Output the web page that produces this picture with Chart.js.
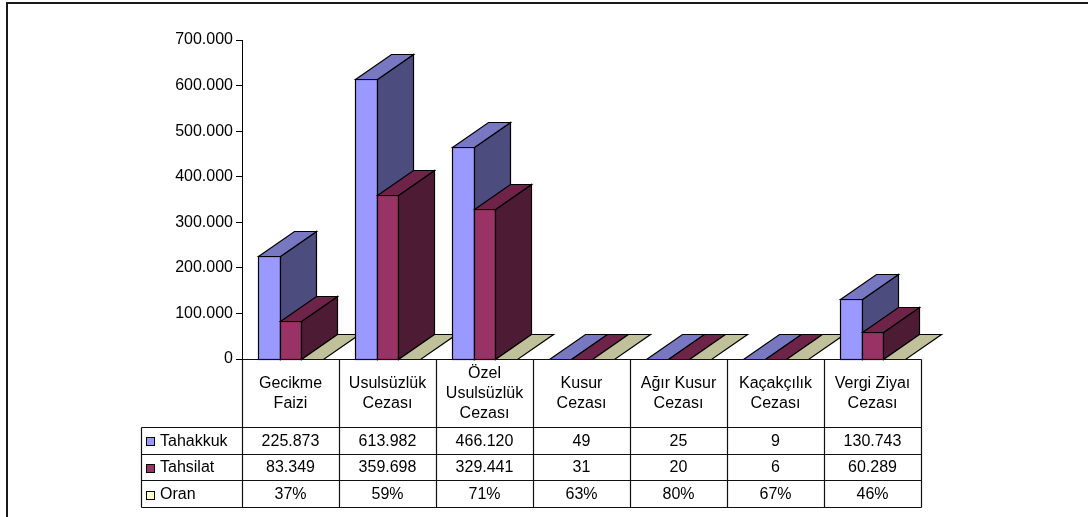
<!DOCTYPE html>
<html>
<head>
<meta charset="utf-8">
<script src="https://cdn.jsdelivr.net/npm/chart.js@4/dist/chart.umd.min.js"></script>
<style>
html,body{margin:0;padding:0;background:#fff;}
#wrap{position:relative;width:1088px;height:517px;}
</style>
</head>
<body>
<div id="wrap"><canvas id="c" width="1088" height="517"></canvas></div>
<script>
// ---- data ----
const categories = [
  ["Gecikme","Faizi"],
  ["Usulsüzlük","Cezası"],
  ["Özel","Usulsüzlük","Cezası"],
  ["Kusur","Cezası"],
  ["Ağır Kusur","Cezası"],
  ["Kaçakçılık","Cezası"],
  ["Vergi Ziyaı","Cezası"]
];
const seriesNames = ["Tahakkuk","Tahsilat","Oran"];
const tahakkuk = [225873, 613982, 466120, 49, 25, 9, 130743];
const tahsilat = [83349, 359698, 329441, 31, 20, 6, 60289];
const oranPct = [37, 59, 71, 63, 80, 67, 46];
const yTicks = [0, 100000, 200000, 300000, 400000, 500000, 600000, 700000];

// ---- styles ----
const FONT = "'Liberation Sans', Arial, sans-serif";
const FS = 16;
const faceColors = [
  {front:'#9999FF', top:'#7777C2', side:'#4C4C7E'},
  {front:'#993366', top:'#6E2448', side:'#4D1B33'},
  {front:'#FFFFCC', top:'#C0C09A', side:'#8F8F72'}
];
const DEPTH_X = 36, DEPTH_Y = -25;

function fmt(n){ return String(n).replace(/\B(?=(\d{3})+(?!\d))/g, '.'); }

const tableRows = [
  tahakkuk.map(fmt),
  tahsilat.map(fmt),
  oranPct.map(v => v + '%')
];

const frame = {
  id:'frame',
  beforeDraw(chart){
    const ctx = chart.ctx;
    ctx.save();
    ctx.fillStyle = '#fff';
    ctx.fillRect(0,0,chart.width,chart.height);
    ctx.fillStyle = '#1a1a1a';
    ctx.fillRect(6, 2, chart.width-6, 2);
    ctx.fillRect(6, 2, 2, chart.height-2);
    ctx.restore();
  }
};

const threeD = {
  id:'threeD',
  afterDatasetsDraw(chart){
    const ctx = chart.ctx;
    const n = chart.data.labels.length;
    const metas = chart.data.datasets.map((d,i)=>chart.getDatasetMeta(i));
    ctx.save();
    ctx.lineWidth = 1.2;
    ctx.strokeStyle = '#000';
    ctx.lineJoin = 'miter';
    for (let c=0;c<n;c++){
      metas.forEach((m,si)=>{
        const el = m.data[c];
        const p = el.getProps(['x','y','base','width'], true);
        const l = Math.round(p.x - p.width/2)+0.5, r = Math.round(p.x + p.width/2)+0.5;
        const t = Math.round(p.y)+0.5, b = Math.round(p.base)+0.5;
        const col = faceColors[si];
        if (b - t >= 1){
          ctx.fillStyle = col.front;
          ctx.fillRect(l, t, r-l, b-t);
          ctx.strokeRect(l, t, r-l, b-t);
          ctx.beginPath();
          ctx.moveTo(r, t); ctx.lineTo(r+DEPTH_X, t+DEPTH_Y);
          ctx.lineTo(r+DEPTH_X, b+DEPTH_Y); ctx.lineTo(r, b); ctx.closePath();
          ctx.fillStyle = col.side; ctx.fill(); ctx.stroke();
        }
        ctx.beginPath();
        ctx.moveTo(l, t); ctx.lineTo(l+DEPTH_X, t+DEPTH_Y);
        ctx.lineTo(r+DEPTH_X, t+DEPTH_Y); ctx.lineTo(r, t); ctx.closePath();
        ctx.fillStyle = col.top; ctx.fill(); ctx.stroke();
      });
    }
    ctx.restore();
  }
};

const dataTable = {
  id:'dataTable',
  afterDraw(chart){
    const ctx = chart.ctx;
    const xs = chart.scales.x;
    const area = chart.chartArea;
    const n = chart.data.labels.length;
    const centers = [];
    for (let i=0;i<n;i++) centers.push(xs.getPixelForValue(i));
    const half = (centers[1]-centers[0])/2;
    const bounds = centers.map(c => c - half); bounds.push(centers[n-1] + half);
    const top = Math.round(area.bottom);
    const headerH = 68, rowH = 26.7;
    const labelLeft = 141;
    const rowY = [top + headerH];
    for (let r=0;r<3;r++) rowY.push(rowY[0] + rowH*(r+1));
    ctx.save();
    ctx.strokeStyle = '#111';
    ctx.lineWidth = 1.2;
    const px = v => Math.round(v)+0.5;
    ctx.beginPath();
    ctx.moveTo(px(bounds[0]), px(top)); ctx.lineTo(px(bounds[n]), px(top));
    rowY.forEach(y => { ctx.moveTo(labelLeft+0.5, px(y)); ctx.lineTo(px(bounds[n]), px(y)); });
    bounds.forEach(x => { ctx.moveTo(px(x), px(top)); ctx.lineTo(px(x), px(rowY[3])); });
    ctx.moveTo(labelLeft+0.5, px(rowY[0])); ctx.lineTo(labelLeft+0.5, px(rowY[3]));
    ctx.stroke();
    ctx.fillStyle = '#000';
    ctx.font = FS + 'px ' + FONT;
    ctx.textAlign = 'center';
    ctx.textBaseline = 'middle';
    const lh = 20;
    chart.data.labels.forEach((lab,i) => {
      const lines = Array.isArray(lab) ? lab : [lab];
      const cy = top + headerH/2;
      lines.forEach((s,k) => {
        ctx.fillText(s, centers[i], cy + (k - (lines.length-1)/2)*lh + 1);
      });
    });
    tableRows.forEach((row,r) => {
      const cy = (rowY[r] + rowY[r+1])/2 + 1;
      row.forEach((s,i) => ctx.fillText(s, centers[i], cy));
    });
    ctx.textAlign = 'left';
    ctx.lineWidth = 1;
    ctx.strokeStyle = '#000';
    seriesNames.forEach((name,r) => {
      const cy = (rowY[r] + rowY[r+1])/2;
      ctx.fillStyle = faceColors[r].front;
      ctx.fillRect(146.5, Math.round(cy-3)+0.5, 8, 8);
      ctx.strokeRect(146.5, Math.round(cy-3)+0.5, 8, 8);
      ctx.fillStyle = '#000';
      ctx.fillText(name, 160, cy + 1);
    });
    ctx.restore();
  }
};

const chart = new Chart(document.getElementById('c'), {
  type:'bar',
  data:{
    labels: categories,
    datasets:[
      {label:seriesNames[0], data:tahakkuk, backgroundColor:'rgba(0,0,0,0)', borderWidth:0},
      {label:seriesNames[1], data:tahsilat, backgroundColor:'rgba(0,0,0,0)', borderWidth:0},
      {label:seriesNames[2], data:oranPct.map(v=>v/100), backgroundColor:'rgba(0,0,0,0)', borderWidth:0}
    ]
  },
  options:{
    responsive:false,
    animation:false,
    events:[],
    layout:{padding:{left:0, right:167, top:40, bottom:158}},
    datasets:{bar:{categoryPercentage:0.68, barPercentage:1}},
    plugins:{legend:{display:false}, tooltip:{enabled:false}},
    scales:{
      x:{display:false, offset:true},
      y:{
        min:0, max:700000,
        afterFit(s){ s.width = 242; },
        afterBuildTicks(s){ s.ticks = yTicks.map(v=>({value:v})); },
        border:{display:true, color:'#000', width:1},
        grid:{drawOnChartArea:false, drawTicks:true, tickLength:6, color:'#000'},
        ticks:{color:'#000', padding:3, font:{family:FONT, size:FS}, callback:v=>fmt(v)}
      }
    }
  },
  plugins:[frame, threeD, dataTable]
});
</script>
</body>
</html>
